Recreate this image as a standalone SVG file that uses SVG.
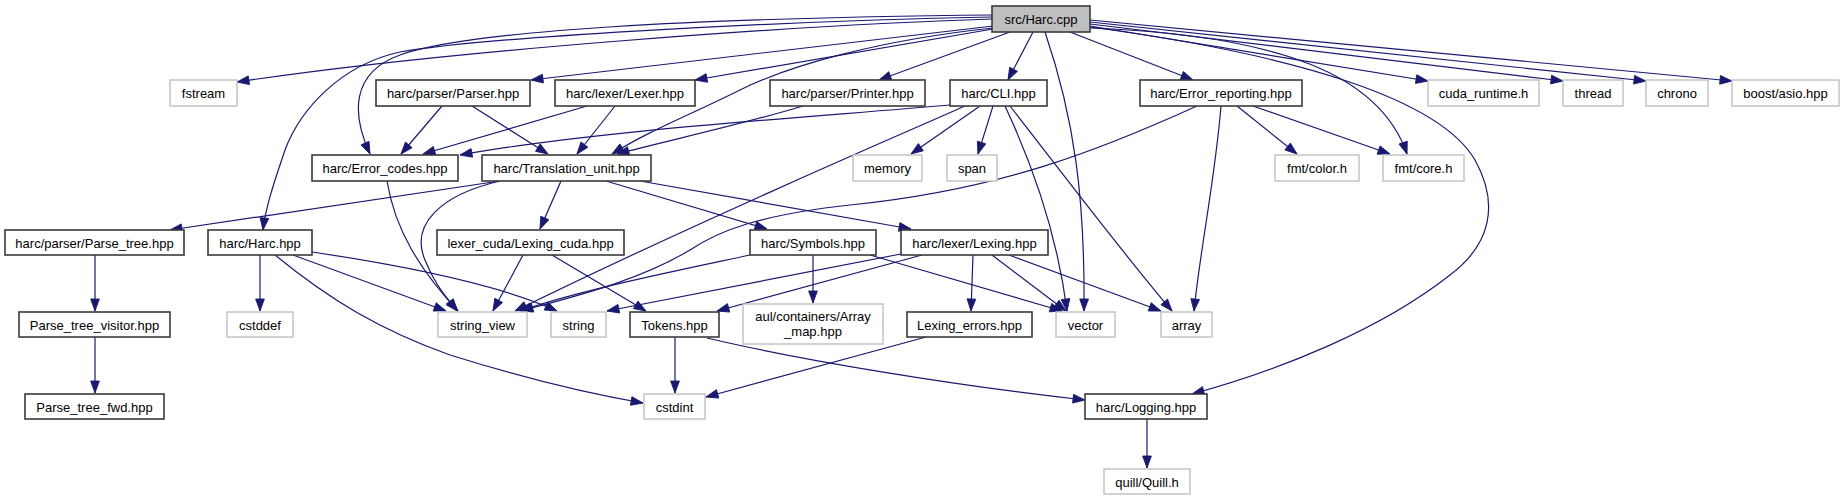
<svg xmlns="http://www.w3.org/2000/svg" width="1844" height="500" viewBox="0 0 1844 500">
<defs>
<style>
.n rect{fill:#ffffff;stroke:#3a3a3a;stroke-width:1.6}
.g rect{fill:#ffffff;stroke:#c4c4c4;stroke-width:1.5}
.m rect{fill:#bfbfbf;stroke:#3a3a3a;stroke-width:1.6}
text{font-family:"Liberation Sans",Arial,sans-serif;font-size:13px;fill:#000;text-anchor:middle}
.e path{fill:none;stroke:#191970;stroke-width:1.2;marker-end:url(#ah)}
</style>
<marker id="ah" markerUnits="userSpaceOnUse" markerWidth="12" markerHeight="9" viewBox="0 0 11 8" refX="11" refY="4" orient="auto" overflow="visible">
<path d="M0,0 L11,4 L0,8 z" fill="#191970" stroke="#191970" stroke-width="0.8"/>
</marker>
</defs>
<rect width="1844" height="500" fill="#ffffff"/>
<g id="edges" class="e">
<!-- from src/Harc.cpp -->
<path d="M992,19 C800,25 450,50 237,82"/>
<path d="M993,26 L531,80"/>
<path d="M993,29 L695,80"/>
<path d="M1010,32 L879,80"/>
<path d="M1033,32 L1008,80"/>
<path d="M1070,32 L1193,80"/>
<path d="M1045,32 C1075,120 1085,200 1084,311"/>
<path d="M1090,26 L1428,81"/>
<path d="M1090,24 L1563,81"/>
<path d="M1090,22 L1646,81"/>
<path d="M1090,20 L1732,81"/>
<path d="M1090,28 C1280,35 1380,75 1407,154"/>
<path d="M1090,27 C1300,55 1440,100 1475,160 C1500,205 1490,245 1450,275 C1380,330 1280,370 1192,394"/>
<path d="M992,15 C700,18 470,30 400,55 C350,73 352,115 370,154"/>
<path d="M992,17 C750,22 480,38 400,52 C340,65 300,110 285,150 C275,180 266,205 263,230"/>
<path d="M993,28 C880,40 790,65 740,90 C690,115 650,130 612,154"/>
<!-- Parser / Lexer / Printer -->
<path d="M442,106 L401,154"/>
<path d="M472,106 L548,154"/>
<path d="M587,106 L423,154"/>
<path d="M615,106 L577,154"/>
<path d="M803,106 C740,125 670,140 617,154"/>
<!-- CLI -->
<path d="M950,105 C800,118 600,130 460,155"/>
<path d="M965,106 C900,135 700,220 515,311"/>
<path d="M980,106 L911,154"/>
<path d="M993,106 L978,154"/>
<path d="M1005,106 C1035,170 1058,240 1067,311"/>
<path d="M1010,106 C1060,170 1120,250 1172,311"/>
<!-- Error_reporting -->
<path d="M1197,106 C1100,150 1000,190 850,205 C760,215 720,230 690,250 C640,280 580,295 521,311"/>
<path d="M1221,106 C1215,180 1200,250 1194,311"/>
<path d="M1237,106 L1297,154"/>
<path d="M1253,106 L1390,154"/>
<!-- Translation_unit -->
<path d="M500,181 L170,230"/>
<path d="M561,181 L540,229"/>
<path d="M500,181 C440,195 410,225 425,260 C435,285 445,295 457,311"/>
<path d="M606,181 L767,229"/>
<path d="M640,181 L911,229"/>
<!-- Error_codes -->
<path d="M387,181 C395,230 420,270 458,311"/>
<!-- Harc.hpp -->
<path d="M260,255 L260,311"/>
<path d="M293,255 L446,311"/>
<path d="M312,252 C400,265 500,285 557,311"/>
<path d="M275,255 C330,300 380,330 450,355 C530,380 590,394 643,403"/>
<!-- Parse_tree chain -->
<path d="M95,255 L95,311"/>
<path d="M95,337 L95,393"/>
<!-- Lexing_cuda -->
<path d="M523,255 L493,311"/>
<path d="M552,255 L646,311"/>
<!-- Symbols -->
<path d="M750,255 C680,270 580,290 520,311"/>
<path d="M813,255 L813,303"/>
<path d="M870,255 L1062,311"/>
<!-- Lexing -->
<path d="M901,254 L607,311"/>
<path d="M922,255 L717,311"/>
<path d="M973,255 L971,311"/>
<path d="M992,255 L1066,311"/>
<path d="M1009,255 L1161,311"/>
<!-- Tokens / Lexing_errors / Logging -->
<path d="M675,337 L675,393"/>
<path d="M707,338 C800,360 950,385 1085,400"/>
<path d="M926,337 L706,397"/>
<path d="M1147,419 L1147,468"/>
</g>
<g id="n_harc_cpp" class="m"><rect x="992" y="6" width="98" height="26"/><text x="1041" y="24">src/Harc.cpp</text></g>
<g id="n_fstream" class="g"><rect x="170" y="80" width="67" height="26"/><text x="203.5" y="98">fstream</text></g>
<g id="n_parser" class="n"><rect x="376" y="80" width="154" height="26"/><text x="453" y="98">harc/parser/Parser.hpp</text></g>
<g id="n_lexer" class="n"><rect x="555" y="80" width="140" height="26"/><text x="625" y="98">harc/lexer/Lexer.hpp</text></g>
<g id="n_printer" class="n"><rect x="770" y="80" width="155" height="26"/><text x="847.5" y="98">harc/parser/Printer.hpp</text></g>
<g id="n_cli" class="n"><rect x="950" y="80" width="97" height="26"/><text x="998.5" y="98">harc/CLI.hpp</text></g>
<g id="n_error_reporting" class="n"><rect x="1140" y="80" width="162" height="26"/><text x="1221" y="98">harc/Error_reporting.hpp</text></g>
<g id="n_cuda_runtime" class="g"><rect x="1428" y="80" width="111" height="26"/><text x="1483.5" y="98">cuda_runtime.h</text></g>
<g id="n_thread" class="g"><rect x="1563" y="80" width="60" height="26"/><text x="1593" y="98">thread</text></g>
<g id="n_chrono" class="g"><rect x="1646" y="80" width="62" height="26"/><text x="1677" y="98">chrono</text></g>
<g id="n_boost_asio" class="g"><rect x="1732" y="80" width="107" height="26"/><text x="1785.5" y="98">boost/asio.hpp</text></g>
<g id="n_error_codes" class="n"><rect x="312" y="155" width="146" height="26"/><text x="385" y="173">harc/Error_codes.hpp</text></g>
<g id="n_translation_unit" class="n"><rect x="482" y="155" width="169" height="26"/><text x="566.5" y="173">harc/Translation_unit.hpp</text></g>
<g id="n_memory" class="g"><rect x="853" y="155" width="69" height="26"/><text x="887.5" y="173">memory</text></g>
<g id="n_span" class="g"><rect x="947" y="155" width="50" height="26"/><text x="972" y="173">span</text></g>
<g id="n_fmt_color" class="g"><rect x="1275" y="155" width="84" height="26"/><text x="1317" y="173">fmt/color.h</text></g>
<g id="n_fmt_core" class="g"><rect x="1383" y="155" width="81" height="26"/><text x="1423.5" y="173">fmt/core.h</text></g>
<g id="n_parse_tree" class="n"><rect x="5" y="230" width="179" height="25"/><text x="94.5" y="247.5">harc/parser/Parse_tree.hpp</text></g>
<g id="n_harc_hpp" class="n"><rect x="208" y="230" width="104" height="25"/><text x="260" y="247.5">harc/Harc.hpp</text></g>
<g id="n_lexing_cuda" class="n"><rect x="437" y="230" width="187" height="25"/><text x="530.5" y="247.5">lexer_cuda/Lexing_cuda.hpp</text></g>
<g id="n_symbols" class="n"><rect x="750" y="230" width="126" height="25"/><text x="813" y="247.5">harc/Symbols.hpp</text></g>
<g id="n_lexing" class="n"><rect x="901" y="230" width="147" height="25"/><text x="974.5" y="247.5">harc/lexer/Lexing.hpp</text></g>
<g id="n_parse_tree_visitor" class="n"><rect x="19" y="312" width="151" height="25"/><text x="94.5" y="329.5">Parse_tree_visitor.hpp</text></g>
<g id="n_cstddef" class="g"><rect x="227" y="312" width="66" height="25"/><text x="260" y="329.5">cstddef</text></g>
<g id="n_string_view" class="g"><rect x="438" y="312" width="89" height="25"/><text x="482.5" y="329.5">string_view</text></g>
<g id="n_string" class="g"><rect x="551" y="312" width="55" height="25"/><text x="578.5" y="329.5">string</text></g>
<g id="n_tokens" class="n"><rect x="630" y="312" width="89" height="25"/><text x="674.5" y="329.5">Tokens.hpp</text></g>
<g id="n_array_map" class="g"><rect x="743" y="304" width="140" height="40"/><text x="813" y="321">aul/containers/Array</text><text x="813" y="336">_map.hpp</text></g>
<g id="n_lexing_errors" class="n"><rect x="907" y="312" width="125" height="25"/><text x="969.5" y="329.5">Lexing_errors.hpp</text></g>
<g id="n_vector" class="g"><rect x="1056" y="312" width="59" height="25"/><text x="1085.5" y="329.5">vector</text></g>
<g id="n_array" class="g"><rect x="1161" y="312" width="51" height="25"/><text x="1186.5" y="329.5">array</text></g>
<g id="n_parse_tree_fwd" class="n"><rect x="25" y="394" width="139" height="25"/><text x="94.5" y="411.5">Parse_tree_fwd.hpp</text></g>
<g id="n_cstdint" class="g"><rect x="644" y="394" width="61" height="25"/><text x="674.5" y="411.5">cstdint</text></g>
<g id="n_logging" class="n"><rect x="1085" y="394" width="122" height="25"/><text x="1146" y="411.5">harc/Logging.hpp</text></g>
<g id="n_quill" class="g"><rect x="1104" y="469" width="86" height="25"/><text x="1147" y="486.5">quill/Quill.h</text></g>
</svg>
